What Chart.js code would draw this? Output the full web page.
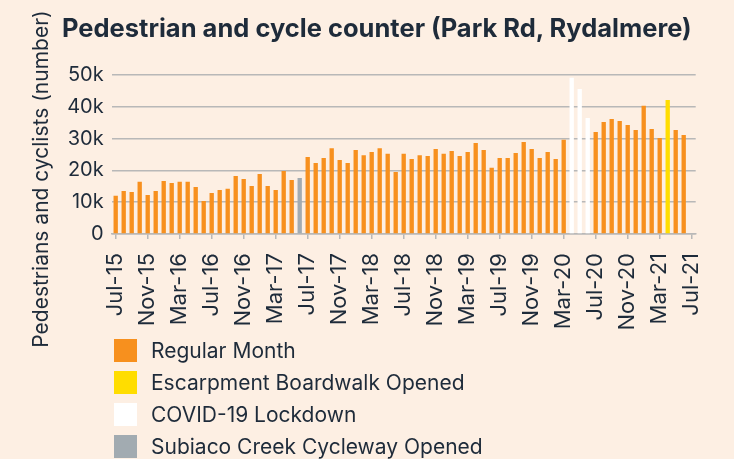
<!DOCTYPE html>
<html>
<head>
<meta charset="utf-8">
<script src="https://cdn.jsdelivr.net/npm/chart.js@4"></script>
<style>
	body { margin: 0; background: #fdefe3; }
	#wrap { position: relative; width: 734px; height: 459px; background: #fdefe3; font-family: Inter, sans-serif; color: #1e2b3a; overflow: hidden; }
	#chart { position: absolute; left: 0; top: 0; }
	#title { position: absolute; left: 62px; top: 13px; font-size: 25.5px; line-height: 30px; font-weight: bold; white-space: nowrap; }
	#ytitle { position: absolute; left: 41px; top: 179px; width: 380px; height: 26px; line-height: 26px; font-size: 21px; text-align: center; white-space: nowrap; transform: translate(-50%, -50%) rotate(-90deg); }
	#legend { position: absolute; left: 114px; top: 339px; }
	.item { display: flex; align-items: center; height: 23px; margin-bottom: 9px; font-size: 21px; white-space: nowrap; }
	.box { width: 23px; height: 23px; margin-right: 14px; }
</style>
</head>
<body>
<div id="wrap">
	<canvas id="chart" width="734" height="459"></canvas>
	<div id="title">Pedestrian and cycle counter (Park Rd, Rydalmere)</div>
	<div id="ytitle">Pedestrians and cyclists (number)</div>
	<div id="legend"></div>
</div>
<script>
const months = [
	"Jul-15", "Aug-15", "Sep-15", "Oct-15", "Nov-15", "Dec-15",
	"Jan-16", "Feb-16", "Mar-16", "Apr-16", "May-16", "Jun-16", "Jul-16", "Aug-16", "Sep-16", "Oct-16", "Nov-16", "Dec-16",
	"Jan-17", "Feb-17", "Mar-17", "Apr-17", "May-17", "Jun-17", "Jul-17", "Aug-17", "Sep-17", "Oct-17", "Nov-17", "Dec-17",
	"Jan-18", "Feb-18", "Mar-18", "Apr-18", "May-18", "Jun-18", "Jul-18", "Aug-18", "Sep-18", "Oct-18", "Nov-18", "Dec-18",
	"Jan-19", "Feb-19", "Mar-19", "Apr-19", "May-19", "Jun-19", "Jul-19", "Aug-19", "Sep-19", "Oct-19", "Nov-19", "Dec-19",
	"Jan-20", "Feb-20", "Mar-20", "Apr-20", "May-20", "Jun-20", "Jul-20", "Aug-20", "Sep-20", "Oct-20", "Nov-20", "Dec-20",
	"Jan-21", "Feb-21", "Mar-21", "Apr-21", "May-21", "Jun-21", "Jul-21"
];

// monthly counts (Jul-21 has no bar)
const counts = [
	12000, 13500, 13200, 16400, 12300, 13500,
	16700, 16000, 16400, 16400, 14800, 10400, 12900, 13800, 14200, 18200, 17300, 15100,
	18900, 15100, 13800, 19800, 17000, 17600, 24200, 22300, 23900, 27000, 23300, 22300,
	26400, 24800, 25800, 27000, 25200, 19500, 25200, 23600, 24800, 24500, 26700, 25200,
	26100, 24500, 25800, 28600, 26400, 20800, 23900, 23900, 25500, 28900, 26700, 23900,
	25800, 23600, 29600, 49100, 45600, 36500, 32100, 35200, 36200, 35500, 34300, 32700,
	40300, 33000, 30200, 42100, 32700, 31100, null
];

const boardwalkMonths = ["Apr-21"];
const covidMonths = ["Apr-20", "May-20", "Jun-20"];
const cyclewayMonths = ["Jun-17"];

const tickLabels = [
	"Jul-15", "Nov-15", "Mar-16", "Jul-16", "Nov-16", "Mar-17", "Jul-17", "Nov-17", "Mar-18", "Jul-18",
	"Nov-18", "Mar-19", "Jul-19", "Nov-19", "Mar-20", "Jul-20", "Nov-20", "Mar-21", "Jul-21"
];

const yTicks = [0, 10000, 20000, 30000, 40000, 50000];

const series = [
	{name: "Regular Month", color: "#f7901e", pick: m => !boardwalkMonths.includes(m) && !covidMonths.includes(m) && !cyclewayMonths.includes(m)},
	{name: "Escarpment Boardwalk Opened", color: "#ffdd00", pick: m => boardwalkMonths.includes(m)},
	{name: "COVID-19 Lockdown", color: "#ffffff", pick: m => covidMonths.includes(m)},
	{name: "Subiaco Creek Cycleway Opened", color: "#a2abb1", pick: m => cyclewayMonths.includes(m)}
];

const textColor = "#1e2b3a";
const gridColor = "#b8b8b8";

const datasets = series.map(function (s)
{
	return {
		label: s.name,
		data: counts.map((v, i) => s.pick(months[i]) ? v : null),
		backgroundColor: s.color,
		barPercentage: 0.54,
		categoryPercentage: 1
	};
});

// HTML legend, one entry per line
let legend = document.getElementById("legend");
series.forEach(function (s)
{
	let item = document.createElement("div");
	item.className = "item";
	item.innerHTML = '<span class="box" style="background:' + s.color + '"></span>' + s.name;
	legend.appendChild(item);
});

const chart = new Chart(document.getElementById("chart"), {
	type: "bar",
	data: {labels: months, datasets: datasets},
	options: {
		responsive: false,
		animation: false,
		devicePixelRatio: 1,
		layout: {padding: {left: 60, right: 38.3, top: 75, bottom: 125}},
		plugins: {legend: {display: false}, tooltip: {enabled: false}},
		scales: {
			x: {
				stacked: true,
				offset: true,
				grid: {drawOnChartArea: false, drawTicks: true, tickLength: 5, color: gridColor, lineWidth: 1.5, offset: false},
				border: {display: true, color: gridColor, width: 1.5},
				ticks: {
					autoSkip: false, minRotation: 90, maxRotation: 90, padding: 14,
					color: textColor, font: {family: "Inter", size: 22},
					callback: function (v, i)
					{
						return tickLabels.includes(months[i]) ? months[i] : null;
					}
				},
				afterFit: function (scale) { scale.height = 100; }
			},
			y: {
				stacked: true,
				min: 0, max: 50000,
				afterBuildTicks: function (scale) { scale.ticks = yTicks.map(v => ({value: v})); },
				grid: {color: gridColor, lineWidth: 1.5, drawTicks: false},
				border: {display: false},
				ticks: {
					padding: 8, color: textColor, font: {family: "Inter", size: 20},
					callback: v => v === 0 ? "0" : (v / 1000) + "k"
				},
				afterFit: function (scale) { scale.width = 51.7; }
			}
		}
	}
});
</script>
</body>
</html>
